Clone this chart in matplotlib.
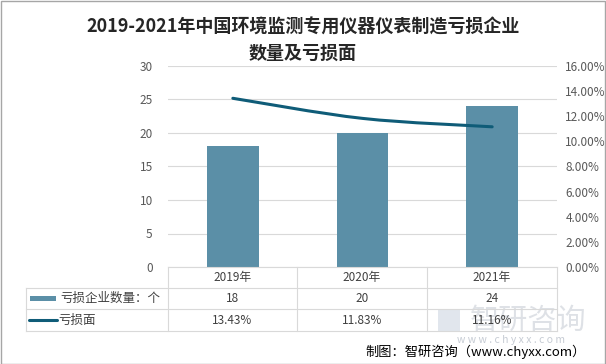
import matplotlib.pyplot as plt
from matplotlib.path import Path
from matplotlib.patches import PathPatch, Rectangle
from matplotlib.lines import Line2D

plt.rcParams['font.family'] = ['Noto Sans CJK SC', 'DejaVu Sans']

years = ['2019年', '2020年', '2021年']
companies = [18, 20, 24]
loss_rate = [13.43, 11.83, 11.16]
bar_label = '亏损企业数量：个'
line_label = '亏损面'
title = '2019-2021年中国环境监测专用仪器仪表制造亏损企业\n数量及亏损面'

bar_color = '#5B8FA7'
line_color = '#0F5C78'
grid_color = '#D9D9D9'
text_color = '#595959'

W, H = 606, 364
fig = plt.figure(figsize=(W / 100, H / 100), dpi=100)

# plot area in pixels
px_l, px_r, px_t, px_b = 168, 557, 66, 267
ax = fig.add_axes([px_l / W, 1 - px_b / H, (px_r - px_l) / W, (px_b - px_t) / H])
x = list(range(len(years)))
ax.bar(x, companies, width=0.4, color=bar_color, zorder=2)
ax.set_xlim(-0.5, len(years) - 0.5)
ax.set_ylim(0, 30)
ax.set_yticks(range(0, 31, 5))
ax.grid(axis='y', color=grid_color, linewidth=0.8, zorder=0)
ax.set_xticks([])
for s in ax.spines.values():
    s.set_visible(False)
ax.tick_params(axis='y', length=0, labelsize=8.5, labelcolor=text_color, pad=11)

ax2 = ax.twinx()
ax2.set_ylim(0, 16)
ax2.set_yticks(range(0, 17, 2))
ax2.set_yticklabels([f'{v:.2f}%' for v in range(0, 17, 2)])
ax2.tick_params(axis='y', length=0, labelsize=8.5, labelcolor=text_color, pad=6)
for s in ax2.spines.values():
    s.set_visible(False)

# smoothed line (Excel-style bezier through the data points)
pts = list(zip(x, loss_rate))
verts = [pts[0]]
codes = [Path.MOVETO]
for i in range(len(pts) - 1):
    p0 = pts[i - 1] if i > 0 else pts[i]
    p1, p2 = pts[i], pts[i + 1]
    p3 = pts[i + 2] if i + 2 < len(pts) else p2
    c1 = (p1[0] + (p2[0] - p0[0]) / 6, p1[1] + (p2[1] - p0[1]) / 6)
    c2 = (p2[0] - (p3[0] - p1[0]) / 6, p2[1] - (p3[1] - p1[1]) / 6)
    verts += [c1, c2, p2]
    codes += [Path.CURVE4] * 3
ax2.add_patch(PathPatch(Path(verts, codes), fill=False, edgecolor=line_color,
                        linewidth=2.2, capstyle='round', zorder=3))

# data table under the chart
def fx(p):
    return p / W

def fy(p):
    return 1 - p / H

cols = [168, 297, 427, 557]
rows = [267, 288, 309, 331]
tl = 26
lw = 0.8
fig.add_artist(Line2D([fx(cols[0]), fx(cols[-1])], [fy(rows[0])] * 2, color=grid_color, lw=lw))
for r in rows[1:]:
    fig.add_artist(Line2D([fx(tl), fx(cols[-1])], [fy(r)] * 2, color=grid_color, lw=lw))
for c in cols:
    fig.add_artist(Line2D([fx(c)] * 2, [fy(rows[0]), fy(rows[-1])], color=grid_color, lw=lw))
fig.add_artist(Line2D([fx(tl)] * 2, [fy(rows[1]), fy(rows[-1])], color=grid_color, lw=lw))

# watermark (sits behind the table text, as in the source)
fig.add_artist(Rectangle((fx(438), fy(331)), fx(22), 21 / H, facecolor='#D5DCE6',
                         edgecolor='none', alpha=0.7))
fig.text(fx(528), fy(321), '智研咨询', ha='center', va='center', fontsize=21,
         color='#C9CED6', alpha=0.6, zorder=0)
fig.text(fx(511), fy(340), 'w w w . c h y x x . c o m', ha='center', va='center',
         fontsize=7.5, color='#B8BFC9', alpha=0.8)

for i in range(len(years)):
    cx = fx((cols[i] + cols[i + 1]) / 2)
    fig.text(cx, fy((rows[0] + rows[1]) / 2), years[i], ha='center', va='center',
             fontsize=8.5, color='#404040')
    fig.text(cx, fy((rows[1] + rows[2]) / 2), str(companies[i]), ha='center', va='center',
             fontsize=8.5, color='#404040')
    fig.text(cx, fy((rows[2] + rows[3]) / 2), f'{loss_rate[i]:.2f}%', ha='center', va='center',
             fontsize=8.5, color='#404040')

fig.add_artist(Rectangle((fx(30), fy(301)), fx(26), 5 / H, color=bar_color, lw=0))
fig.text(fx(60), fy((rows[1] + rows[2]) / 2), bar_label, ha='left', va='center',
         fontsize=9, color='#404040')
fig.add_artist(Line2D([fx(29), fx(57)], [fy(320)] * 2, color=line_color, lw=2.2,
                      solid_capstyle='round'))
fig.text(fx(58), fy(320), line_label, ha='left', va='center', fontsize=9, color='#404040')

fig.text(fx(303), fy(40), title, ha='center', va='center', fontsize=13,
         fontweight='bold', color='#262626', linespacing=1.45)
fig.text(fx(586), fy(352), '制图：智研咨询（www.chyxx.com）', ha='right', va='center',
         fontsize=9.5, color='#000000')

fig.add_artist(Rectangle((0.5 / W, 0.5 / H), 1 - 1.5 / W, 1 - 1.5 / H, fill=False,
                         edgecolor='#A6A6A6', lw=1))

fig.savefig('out.png', dpi=100)
